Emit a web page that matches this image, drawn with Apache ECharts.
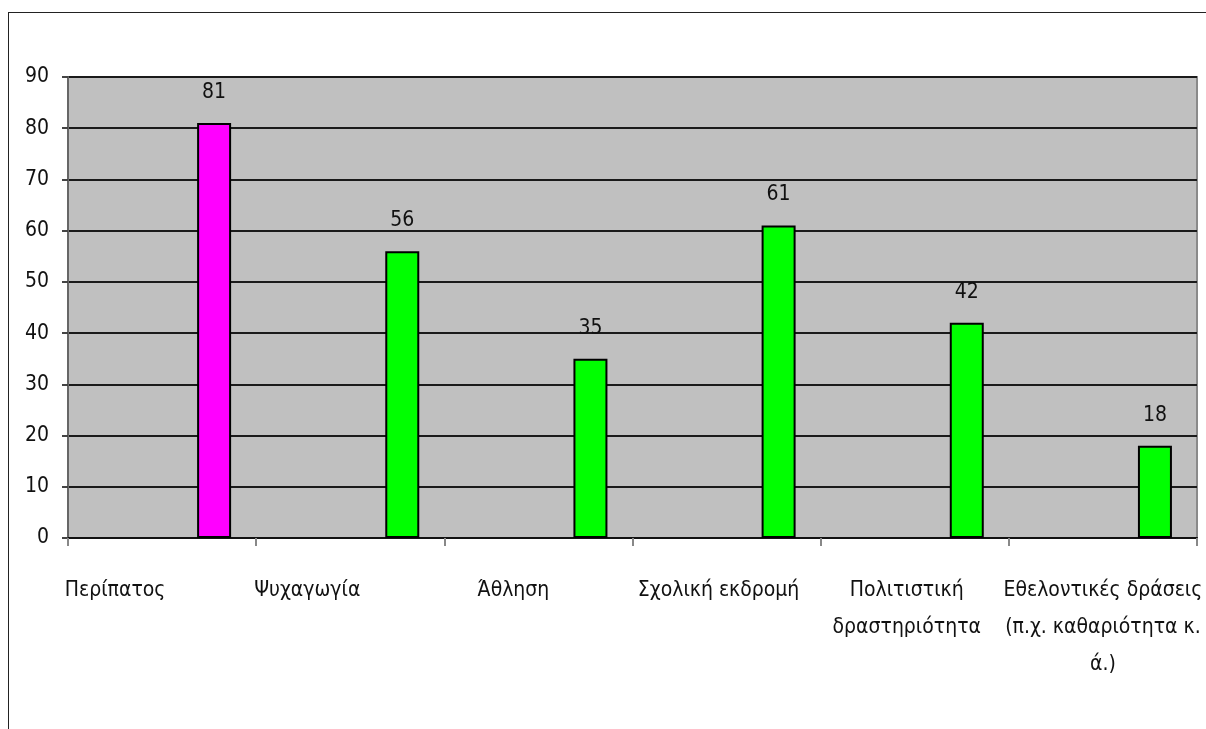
<!DOCTYPE html>
<html>
<head>
<meta charset="utf-8">
<script src="https://cdn.jsdelivr.net/npm/echarts@6/dist/echarts.min.js"></script>
<style>
html,body{margin:0;padding:0;background:#fff;}
#wrap{position:relative;width:1206px;height:729px;overflow:hidden;}
#c{position:absolute;left:0;top:0;width:1206px;height:729px;}
#frame{position:absolute;left:8px;top:12px;right:-2px;bottom:-2px;border-left:1px solid #222;border-top:1px solid #222;pointer-events:none;}
</style>
</head>
<body>
<div id="wrap"><div id="c"></div><div id="frame"></div></div>
<script>
// ---- data ----
const categories = [
  'Περίπατος',
  'Ψυχαγωγία',
  'Άθληση',
  'Σχολική εκδρομή',
  'Πολιτιστική\nδραστηριότητα',
  'Εθελοντικές δράσεις\n(π.χ. καθαριότητα κ.\nά.)'
];
const values = [81, 56, 35, 61, 42, 18];
const yMin = 0, yMax = 90, yStep = 10;

// ---- styling (kept separate from data) ----
const FONT = "'DejaVu Sans Condensed','Liberation Sans Narrow',sans-serif";
const FS = 21;
const labelShift = [-47, -43, -25, -8, -8, 0];
const MAGENTA = '#ff00ff', GREEN = '#00ff00';

const rich = {};
labelShift.forEach((s, i) => {
  rich['s' + i] = {
    fontFamily: FONT, fontSize: FS, color: '#111', lineHeight: 37,
    padding: s < 0 ? [0, -2 * s, 0, 0] : [0, 0, 0, 2 * s]
  };
});

const chart = echarts.init(document.getElementById('c'), null, {renderer: 'canvas'});
chart.setOption({
  animation: false,
  backgroundColor: '#ffffff',
  grid: {
    left: 68, right: 9, top: 77, bottom: 191,
    show: true, backgroundColor: '#c0c0c0', borderColor: '#8a8a8a', borderWidth: 2,
    containLabel: false,
    outerBoundsMode: 'none'
  },
  xAxis: {
    type: 'category',
    data: categories,
    boundaryGap: true,
    axisLine: {show: true, lineStyle: {color: '#111', width: 2}},
    axisTick: {show: true, inside: false, length: 8, lineStyle: {color: '#888', width: 2}},
    axisLabel: {
      interval: 0, margin: 34, hideOverlap: false,
      formatter: (v, i) => v.split('\n').map(l => '{s' + i + '|' + l + '}').join('\n'),
      rich: rich
    },
    splitLine: {show: false}
  },
  yAxis: {
    type: 'value',
    min: yMin, max: yMax, interval: yStep,
    axisLine: {show: true, lineStyle: {color: '#666', width: 2}},
    axisTick: {show: true, length: 6, lineStyle: {color: '#444', width: 2}},
    axisLabel: {fontFamily: FONT, fontSize: FS, color: '#111', margin: 19},
    splitLine: {show: true, lineStyle: {color: '#1a1a1a', width: 2}}
  },
  series: [
    {
      // empty companion series: reproduces the original's bar offset within each category
      type: 'bar', data: categories.map(() => null), barWidth: 34, silent: true
    },
    {
      type: 'bar',
      data: values,
      barWidth: 34,
      barGap: '206%',
      itemStyle: {
        color: p => (p.dataIndex === 0 ? MAGENTA : GREEN),
        borderColor: '#000', borderWidth: 2
      },
      label: {
        show: true, position: 'top', distance: 20,
        fontFamily: FONT, fontSize: FS, color: '#111'
      }
    }
  ]
});
</script>
</body>
</html>
